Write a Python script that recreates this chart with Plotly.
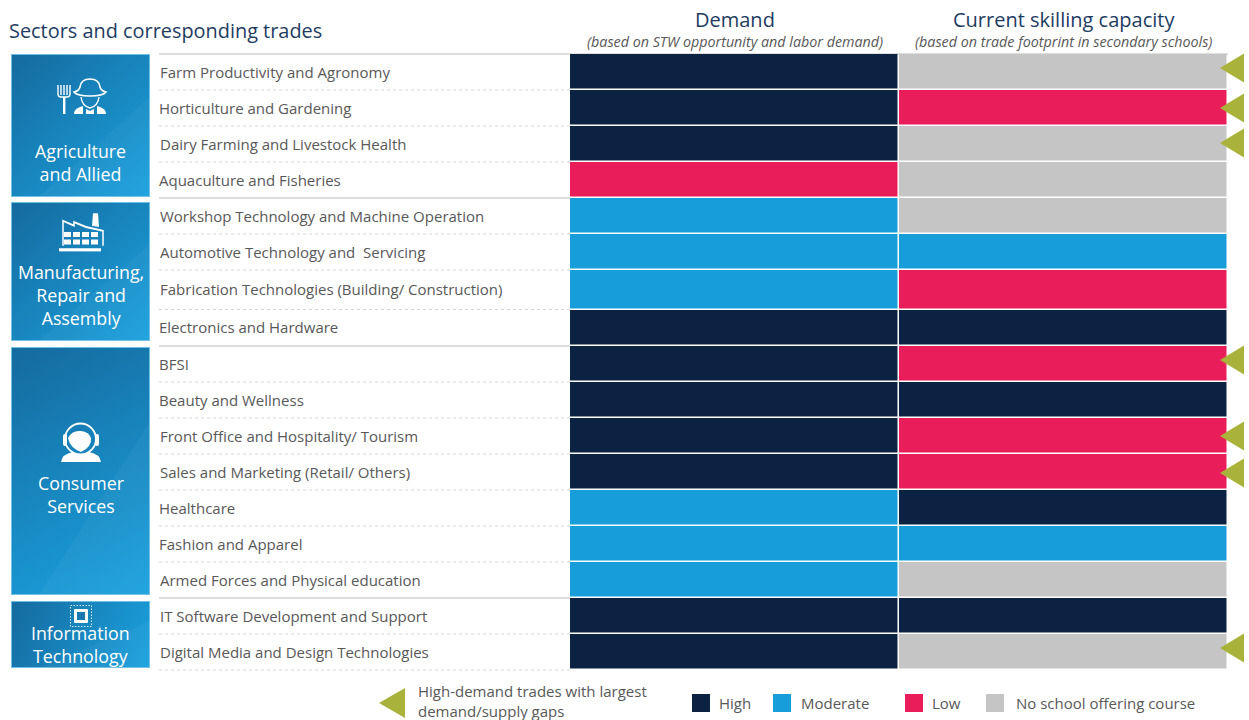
import base64
import plotly.graph_objects as go

# ---------- data ----------
trades = ["Farm Productivity and Agronomy", "Horticulture and Gardening", "Dairy Farming and Livestock Health",
          "Aquaculture and Fisheries", "Workshop Technology and Machine Operation",
          "Automotive Technology and&nbsp; Servicing", "Fabrication Technologies (Building/ Construction)",
          "Electronics and Hardware", "BFSI", "Beauty and Wellness", "Front Office and Hospitality/ Tourism",
          "Sales and Marketing (Retail/ Others)", "Healthcare", "Fashion and Apparel",
          "Armed Forces and Physical education", "IT Software Development and Support",
          "Digital Media and Design Technologies"]
demand = ["High", "High", "High", "Low", "Moderate", "Moderate", "Moderate", "High", "High", "High", "High", "High",
          "Moderate", "Moderate", "Moderate", "High", "High"]
capacity = ["None", "Low", "None", "None", "None", "Moderate", "Low", "High", "Low", "High", "Low", "Low",
            "High", "Moderate", "None", "High", "None"]
gap_flags = [1, 1, 1, 0, 0, 0, 0, 0, 1, 0, 1, 1, 0, 0, 0, 0, 1]
sectors = ["Agriculture<br>and Allied", "Manufacturing,<br>Repair and<br>Assembly", "Consumer<br>Services",
           "Information<br>Technology"]
levels = ["High", "Moderate", "Low", "None"]
level_labels = ["High", "Moderate", "Low", "No school offering course"]
columns = ["Demand", "Current skilling capacity"]
column_notes = ["(based on STW opportunity and labor demand)", "(based on trade footprint in secondary schools)"]

# ---------- layout constants (pixels of the 1249x720 page) ----------
W, H = 1249, 720
ROW_EDGES = [54, 90, 126, 162, 198, 234, 270, 309.5, 346, 382, 418, 454, 490, 526, 562, 598, 634, 670]
COL_LEFT, COL_RIGHT = 570, 1228
LEVEL_COLORS = ["#0C2243", "#169DDA", "#E91D59", "#C5C5C5"]
TEXT = "#585858"
TITLE = "#1D3C62"
OLIVE = "#A9B23A"
FONT = "Open Sans"
TRI_OFFSET = [-4, 0, -1, 0, 0, 0, 0, 0, -4, 0, 0, 1, 0, 0, 0, 0, -4]
BOXES = [(54, 197), (202, 341), (347, 595), (601, 668)]
BOX_TEXT_Y = [162.5, 294.5, 494.5, 644]


def px(x):
    return x / W


ICONS = [
    # farmer with fork
    ('<g fill="none" stroke="#fff" stroke-width="1.4"><path d="M47 31v9q0 3 3 3h6q3 0 3-3v-9" />'
     '<path d="M50 31v10M53 31v10M56 31v10"/></g><rect x="52" y="43" width="2.4" height="17" fill="#fff"/>'
     '<path d="M63 38q5-1 6-5q1-8 10-8q9 0 10 8q1 4 6 5q-3 4-16 4q-13 0-16-4z" fill="none" stroke="#fff" stroke-width="1.6"/>'
     '<path d="M70 43q1 9 9 11q8-2 9-11" fill="none" stroke="#fff" stroke-width="1.4"/>'
     '<path d="M63 60q0-5 6-7l3-1v8zM75 60v-5l4 2l4-2v5zM86 60v-8l3 1q6 2 6 7z" fill="#fff"/>'),
    # factory
    ('<g transform="scale(1 1.25)"><g fill="none" stroke="#fff" stroke-width="1.5"><path d="M52 63v-20l11 4v-3l12 4l17 3v12"/></g>'
     '<path d="M81 47l1-10h5l1 11z" fill="#fff"/>'
     '<path d="M53 52h7v4h-7zM62 52h7v4h-7zM71 52h7v4h-7zM80 52h7v4h-7zM53 58h7v4h-7zM62 58h7v4h-7z'
     'M71 58h7v4h-7zM80 58h7v4h-7z" fill="#fff"/><rect x="48" y="65" width="42" height="2.5" fill="#fff"/></g>'),
    # call-centre agent
    ('<circle cx="69.5" cy="92" r="15.5" fill="none" stroke="#fff" stroke-width="1.8"/>'
     '<rect x="52" y="87" width="4" height="12" rx="2" fill="#fff"/><rect x="84" y="87" width="4" height="12" rx="2" fill="#fff"/>'
     '<path d="M57 91q4-8 13-7q8 1 10 7q1 9-10 14q-11-4-13-14z" fill="#fff"/>'
     '<path d="M50 115q1-8 12-10q8 6 16 0q11 2 12 10z" fill="#fff"/>'),
    # chip
    ('<g stroke="#cfe9f8" stroke-width="1" stroke-dasharray="1.5 1.5" fill="none">'
     '<rect x="59.5" y="4.5" width="21" height="21"/></g><rect x="63" y="8" width="14" height="14" rx="1" fill="#fff"/>'
     '<rect x="66" y="11" width="8" height="8" fill="#1a78b0"/>'),
]
ICON_DY = [0, -35, 0, 0]


def box_image(top, bottom, icon, dy):
    w, h = 139, bottom - top
    svg = (f'<svg xmlns="http://www.w3.org/2000/svg" width="{w}" height="{h}" viewBox="0 0 {w} {h}">'
           '<defs><linearGradient id="g" gradientUnits="userSpaceOnUse" '
           f'x1="0" y1="0" x2="{w}" y2="{h}"><stop offset="0" stop-color="#156A9E"/>'
           '<stop offset="1" stop-color="#1BA2DF"/></linearGradient></defs>'
           f'<rect x="0.5" y="0.5" width="{w-1}" height="{h-1}" fill="url(#g)" stroke="#6FC0E8"/>'
           f'<path d="M{w} {h*0.3}L{w} {h}L{w*0.2} {h}z" fill="#fff" opacity="0.035"/>'
           f'<g transform="translate(0 {dy})">{icon}</g></svg>')
    return "data:image/svg+xml;base64," + base64.b64encode(svg.encode()).decode()


fig = go.Figure()

# status cells
code = {name: i for i, name in enumerate(levels)}
z = [[code[d], code[c]] for d, c in zip(demand, capacity)]
n = len(levels)
scale = []
for i, c in enumerate(LEVEL_COLORS):
    scale += [[i / n, c], [(i + 1) / n, c]]
fig.add_trace(go.Heatmap(z=z, x=[-0.5, 0.5, 1.5], y=ROW_EDGES, zmin=-0.5, zmax=n - 0.5, colorscale=scale,
                         showscale=False, xgap=1.5, ygap=1.5, hoverinfo="skip"))

fig.update_layout(
    width=W, height=H, margin=dict(l=0, r=0, t=0, b=0), paper_bgcolor="white", plot_bgcolor="white",
    showlegend=False, font=dict(family=FONT, color=TEXT),
    xaxis=dict(domain=[px(COL_LEFT), px(COL_RIGHT)], range=[-0.5, 1.5], visible=False, fixedrange=True),
    yaxis=dict(domain=[0, 1], range=[H, 0], visible=False, fixedrange=True),
)

shapes, annotations, images = [], [], []


def text(x, y, s, size, color=TEXT, anchor="left"):
    annotations.append(dict(x=px(x), y=y, xref="paper", yref="y", text=s, showarrow=False, xanchor=anchor,
                            yanchor="middle", align=anchor, font=dict(size=size, color=color, family=FONT),
                            borderpad=0))


def triangle(x, y, length, half):
    shapes.append(dict(type="path", xref="paper", yref="y", xsizemode="pixel", ysizemode="pixel",
                       xanchor=px(x), yanchor=y, path=f"M 0 0 L {length} -{half} L {length} {half} Z",
                       fillcolor=OLIVE, line_width=0))


# row separators and labels
major = {0, 4, 8, 15}
for i, edge in enumerate(ROW_EDGES):
    is_major = i in major
    shapes.append(dict(type="line", xref="paper", yref="y", x0=px(159), x1=px(COL_LEFT if i else 1228), y0=edge, y1=edge,
                       line=dict(color="#BDBDBD" if is_major else "#D4D4D4", width=1.2 if is_major else 1,
                                 dash="solid" if is_major else "dot"), layer="below"))
for i, name in enumerate(trades):
    mid = (ROW_EDGES[i] + ROW_EDGES[i + 1]) / 2
    text(158.5, mid - 0.5, name, 15)
    if gap_flags[i]:
        triangle(1220, mid + TRI_OFFSET[i], 24, 14.5)

# sector boxes
for i, (label, (top, bottom)) in enumerate(zip(sectors, BOXES)):
    images.append(dict(source=box_image(top, bottom, ICONS[i], ICON_DY[i]), xref="paper", yref="y", x=px(11), y=top,
                       sizex=139 / W, sizey=bottom - top, sizing="stretch", xanchor="left", yanchor="top",
                       layer="below"))
    text(80.5, BOX_TEXT_Y[i], label, 17.8, "white", "center")

# headers
text(7.5, 30, "Sectors and corresponding trades", 19.9, TITLE)
for name, note, cx in zip(columns, column_notes, [735, 1063.5]):
    text(cx, 19, name, 20, TITLE, "center")
    text(cx, 41, f"<i>{note}</i>", 14.3, TEXT, "center")

# legend
triangle(379, 703, 26, 15)
text(417, 701, "High-demand trades with largest<br>demand/supply gaps", 15)
for color, label, x0, tx in zip(LEVEL_COLORS, level_labels, [692, 773, 905, 986], [718, 800, 931, 1015]):
    shapes.append(dict(type="rect", xref="paper", yref="y", x0=px(x0), x1=px(x0 + 18), y0=694, y1=712,
                       fillcolor=color, line_width=0))
    text(tx, 703, label, 15)

fig.update_layout(shapes=shapes, annotations=annotations, images=images)
fig.write_html("out.html", config={"displayModeBar": False},
               post_script="document.body.style.margin='0';document.body.style.overflow='hidden';")
